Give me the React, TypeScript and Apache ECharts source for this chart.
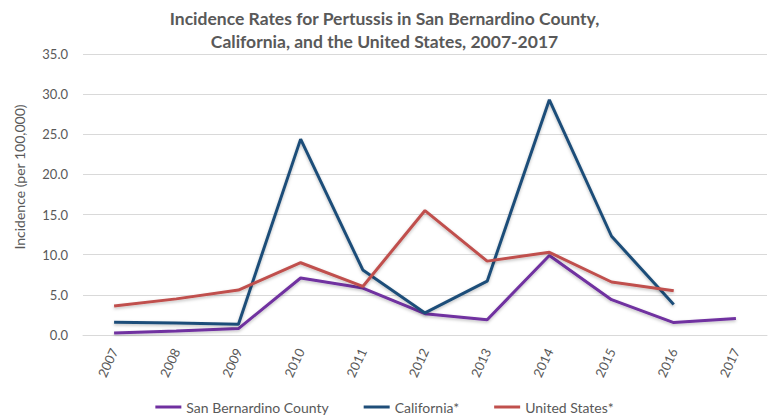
import React, { useEffect, useRef } from "react";
import * as echarts from "echarts";

const years = ["2007", "2008", "2009", "2010", "2011", "2012", "2013", "2014", "2015", "2016", "2017"];
const sanBernardino = [0.25, 0.5, 0.8, 7.1, 5.85, 2.65, 1.9, 9.9, 4.4, 1.55, 2.05];
const california = [1.6, 1.5, 1.35, 24.4, 8.1, 2.75, 6.7, 29.3, 12.3, 3.8, null];
const unitedStates = [3.6, 4.5, 5.6, 9.0, 6.05, 15.5, 9.2, 10.3, 6.6, 5.5, null];

const titleLines = "Incidence Rates for Pertussis in San Bernardino County,\nCalifornia, and the United States, 2007-2017";
const yAxisName = "Incidence (per 100,000)";

const FONT = "Lato, 'Open Sans', sans-serif";

export default function App() {
  const ref = useRef<HTMLDivElement>(null);
  useEffect(() => {
    document.body.style.margin = "0";
    const chart = echarts.init(ref.current!, null, { renderer: "svg" });
    const mkSeries = (name: string, data: (number | null)[], color: string) => ({
      name,
      type: "line",
      data,
      symbol: "none",
      connectNulls: false,
      lineStyle: {
        width: 3,
        color,
        shadowColor: "rgba(0,0,0,0.25)",
        shadowBlur: 3,
        shadowOffsetY: 1.5,
      },
      itemStyle: { color },
    });
    chart.setOption({
      animation: false,
      textStyle: { fontFamily: FONT },
      title: {
        text: titleLines,
        left: "center",
        top: 2,
        textStyle: {
          fontFamily: FONT,
          fontSize: 17.5,
          fontWeight: "bold",
          color: "#595959",
          lineHeight: 23,
        },
      },
      graphic: [
        {
          type: "text",
          x: 19,
          y: 177,
          rotation: Math.PI / 2,
          style: {
            text: yAxisName,
            fontFamily: FONT,
            fontSize: 14,
            fill: "#595959",
            align: "center",
            verticalAlign: "middle",
          },
        },
      ],
      grid: { left: 83, right: 2, top: 54, bottom: 81 },
      legend: {
        top: 395,
        left: "center",
        icon: "rect",
        itemWidth: 26,
        itemHeight: 3,
        itemGap: 35,
        textStyle: { fontFamily: FONT, fontSize: 14, color: "#595959" },
        data: ["San Bernardino County", "California*", "United States*"],
      },
      xAxis: {
        type: "category",
        data: years,
        boundaryGap: true,
        axisLine: { show: true, lineStyle: { color: "#d9d9d9" } },
        axisTick: { show: false },
        axisLabel: {
          rotate: 65,
          fontSize: 13,
          color: "#595959",
          fontFamily: FONT,
          margin: 14,
        },
      },
      yAxis: {
        type: "value",
        min: 0,
        max: 35,
        interval: 5,
        axisLine: { show: false },
        axisTick: { show: false },
        splitLine: { lineStyle: { color: "#d9d9d9", width: 1 } },
        axisLabel: {
          formatter: (v: number) => v.toFixed(1),
          fontSize: 13,
          color: "#595959",
          fontFamily: FONT,
          margin: 15,
        },
      },
      series: [
        mkSeries("San Bernardino County", sanBernardino, "#7030A0"),
        mkSeries("California*", california, "#1F4E79"),
        mkSeries("United States*", unitedStates, "#C0504D"),
      ],
    });
    return () => chart.dispose();
  }, []);
  return <div ref={ref} style={{ width: 769, height: 416 }} />;
}
